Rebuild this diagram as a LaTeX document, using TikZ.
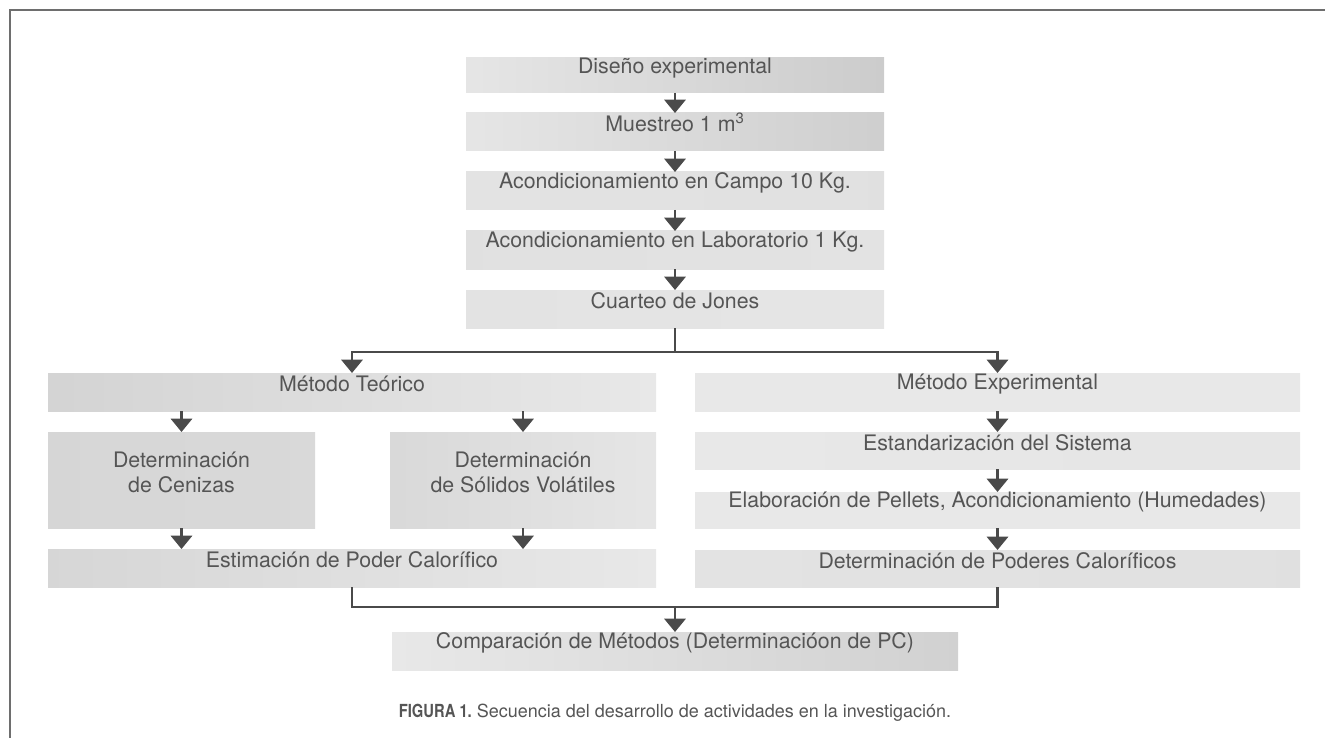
\documentclass[tikz,border=0pt]{standalone}
\usepackage{fontspec}
\usepackage{graphicx}
\setmainfont{TeX Gyre Heros}
\usetikzlibrary{arrows.meta,fit}
\definecolor{txt}{HTML}{555555}
\definecolor{ln}{HTML}{4A4A4A}
\definecolor{frm}{HTML}{6E6E6E}
\begin{document}
\begin{tikzpicture}[x=0.75pt,y=-0.75pt,
  box/.style={rectangle, inner sep=0pt, outer sep=0pt, text=txt, align=center,
    text depth=0pt, font=\fontsize{16}{19}\selectfont},
  conn/.style={draw=ln, line width=1.7pt, -{Triangle[width=16pt,length=10pt]}},
  line/.style={draw=ln, line width=1.7pt, line join=miter},
  frame/.style={draw=frm, line width=1.5pt}]
\useasboundingbox (0,0) rectangle (1325,738);
\draw[frame] (10,738) -- (10,10) -- (1325,10);

% top column
\node[box, left color=black!10, right color=black!20, fit={(466,58) (884,93)}] (d) {Diseño experimental};
\node[box, left color=black!10, right color=black!19, fit={(466,113) (884,151)}] (m) {Muestreo 1 m\textsuperscript{3}};
\node[box, left color=black!11, right color=black!12, fit={(466,172) (884,210)}] (ac) {Acondicionamiento en Campo 10 Kg.};
\node[box, left color=black!12, right color=black!11, fit={(466,231) (884,269)}] (al) {Acondicionamiento en Laboratorio 1 Kg.};
\node[box, left color=black!11, right color=black!10, fit={(466,290) (884,328)}] (cj) {Cuarteo de Jones};

% left branch
\node[box, left color=black!17, right color=black!9, fit={(48,373) (656,411)}] (mt) {Método Teórico};
\node[box, left color=black!16, right color=black!15, fit={(48,432) (315,528)}] (cz) {Determinación\\de Cenizas};
\node[box, left color=black!15, right color=black!10, fit={(390,432) (656,528)}] (sv) {Determinación\\de Sólidos Volátiles};
\node[box, left color=black!16, right color=black!9, fit={(48,549) (656,587)}] (est) {Estimación de Poder Calorífico};

% right branch
\node[box, left color=black!9, right color=black!9, fit={(695,373) (1300,411)}] (me) {Método Experimental};
\node[box, left color=black!9, right color=black!10, fit={(695,432) (1300,469)}] (es) {Estandarización del Sistema};
\node[box, left color=black!9, right color=black!9, fit={(695,492) (1300,528)}] (el) {Elaboración de Pellets, Acondicionamiento (Humedades)};
\node[box, left color=black!11, right color=black!12, fit={(695,550) (1300,587)}] (pc) {Determinación de Poderes Caloríficos};

% bottom
\node[box, left color=black!9, right color=black!18, fit={(392,632) (958,670)}] (cmp) {Comparación de Métodos (Determinacióon de PC)};
\node[text=txt, font=\fontsize{13.5}{16}\selectfont, anchor=center] (cap) at (675,713)
  {\scalebox{0.82}[1]{\bfseries FIGURA 1.} Secuencia del desarrollo de actividades en la investigación.};

% connectors top
\draw[conn] (d) -- (m);
\draw[conn] (m) -- (ac);
\draw[conn] (ac) -- (al);
\draw[conn] (al) -- (cj);
\coordinate (split) at (675,352);
\draw[line] (cj.south) -- (split);
\draw[conn] (split) -| (mt.north);
\draw[conn] (split) -| (me.north);

% left connectors
\draw[conn] (cz.north |- mt.south) -- (cz.north);
\draw[conn] (sv.north |- mt.south) -- (sv.north);
\draw[conn] (cz.south) -- (cz.south |- est.north);
\draw[conn] (sv.south) -- (sv.south |- est.north);

% right connectors
\draw[conn] (me) -- (es);
\draw[conn] (es) -- (el);
\draw[conn] (el) -- (pc);

% merge
\coordinate (merge) at (675,607);
\draw[line] (est.south) |- (merge);
\draw[line] (pc.south) |- (merge);
\draw[conn] (merge) -- (cmp.north);
\end{tikzpicture}
\end{document}
